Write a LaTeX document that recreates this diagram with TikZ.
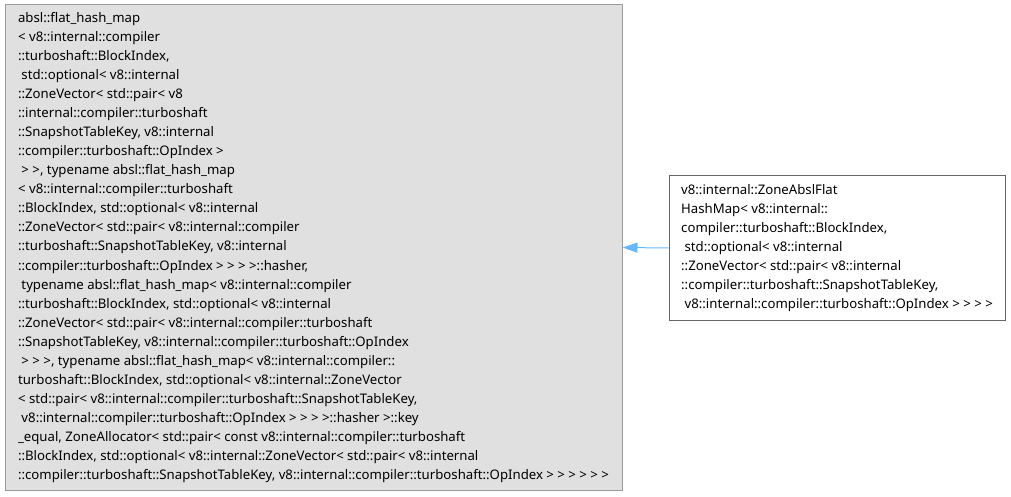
\documentclass[tikz,border=0pt]{standalone}
\usepackage{fontspec}
\setmainfont{Noto Sans}
\usetikzlibrary{arrows.meta}
\definecolor{boxfill}{HTML}{E0E0E0}
\definecolor{boxline}{HTML}{999999}
\definecolor{otherline}{HTML}{666666}
\definecolor{arrowblue}{HTML}{63B8FF}
\tikzset{
  classbox/.style={draw=#1, line width=1pt, rectangle, inner sep=0pt, align=left,
    font=\fontsize{13.2}{19.08}\selectfont},
  inherit/.style={draw=arrowblue, line width=1pt, -{Triangle[width=10pt,length=15pt]}}
}
\newcommand{\lsp}{\hspace*{0.26em}}
\begin{document}
\begin{tikzpicture}[x=1pt,y=1pt]
\useasboundingbox (0,0) rectangle (1011,496);
\node[classbox=boxline, fill=boxfill, minimum width=617pt, minimum height=485pt] (base) at (313.5,248.5) {%
absl::flat\_hash\_map\\
< v8::internal::compiler\\
::turboshaft::BlockIndex,\\
\lsp std::optional< v8::internal\\
::ZoneVector< std::pair< v8\\
::internal::compiler::turboshaft\\
::SnapshotTableKey, v8::internal\\
::compiler::turboshaft::OpIndex >\\
\lsp > >, typename absl::flat\_hash\_map\\
< v8::internal::compiler::turboshaft\\
::BlockIndex, std::optional< v8::internal\\
::ZoneVector< std::pair< v8::internal::compiler\\
::turboshaft::SnapshotTableKey, v8::internal\\
::compiler::turboshaft::OpIndex > > > >::hasher,\\
\lsp typename absl::flat\_hash\_map< v8::internal::compiler\\
::turboshaft::BlockIndex, std::optional< v8::internal\\
::ZoneVector< std::pair< v8::internal::compiler::turboshaft\\
::SnapshotTableKey, v8::internal::compiler::turboshaft::OpIndex\\
\lsp > > >, typename absl::flat\_hash\_map< v8::internal::compiler::\\
turboshaft::BlockIndex, std::optional< v8::internal::ZoneVector\\
< std::pair< v8::internal::compiler::turboshaft::SnapshotTableKey,\\
\lsp v8::internal::compiler::turboshaft::OpIndex > > > >::hasher >::key\\
\_equal, ZoneAllocator< std::pair< const v8::internal::compiler::turboshaft\\
::BlockIndex, std::optional< v8::internal::ZoneVector< std::pair< v8::internal\\
::compiler::turboshaft::SnapshotTableKey, v8::internal::compiler::turboshaft::OpIndex > > > > > >};
\node[classbox=otherline, fill=white, minimum width=336pt, minimum height=144pt] (derived) at (837,248) {%
v8::internal::ZoneAbslFlat\\
HashMap< v8::internal::\\
compiler::turboshaft::BlockIndex,\\
\lsp std::optional< v8::internal\\
::ZoneVector< std::pair< v8::internal\\
::compiler::turboshaft::SnapshotTableKey,\\
\lsp v8::internal::compiler::turboshaft::OpIndex > > > >};
\draw[inherit] (derived.west) -- (base.east);
\end{tikzpicture}
\end{document}
